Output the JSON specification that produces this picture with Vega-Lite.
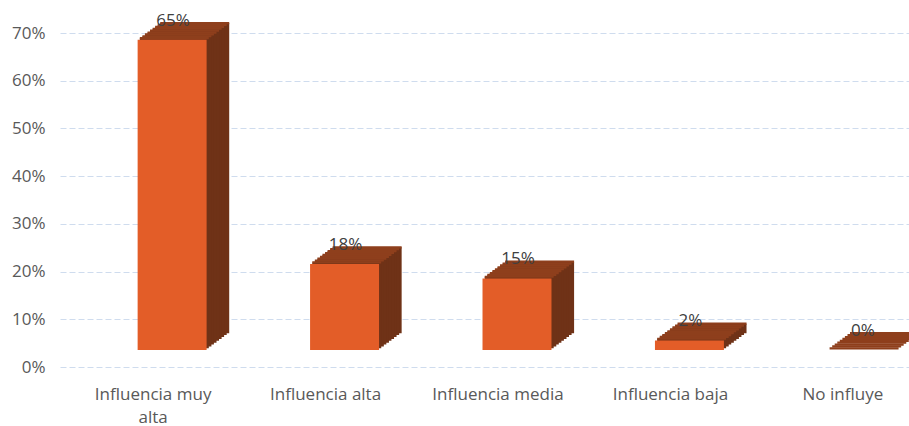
{
  "$schema": "https://vega.github.io/schema/vega-lite/v6.json",
  "width": 800,
  "height": 334,
  "autosize": {"type": "none"},
  "padding": {"left": 60, "top": 33, "right": 49, "bottom": 59},
  "background": "white",
  "config": {"view": {"stroke": null}, "font": "Open Sans"},
  "data": {"values": [
    {"categoria": "Influencia muy alta", "valor": 0.65, "etiqueta": "65%"},
    {"categoria": "Influencia alta", "valor": 0.18, "etiqueta": "18%"},
    {"categoria": "Influencia media", "valor": 0.15, "etiqueta": "15%"},
    {"categoria": "Influencia baja", "valor": 0.02, "etiqueta": "2%"},
    {"categoria": "No influye", "valor": 0.0, "etiqueta": "0%"}
  ]},
  "encoding": {
    "x": {"field": "categoria", "type": "nominal", "sort": null,
      "scale": {"range": [0, 876], "paddingInner": 0, "paddingOuter": 0.04},
      "axis": {"title": null, "domain": false, "ticks": false, "labelAngle": 0, "labelFontSize": 17, "labelColor": "#595959", "labelPadding": 19, "labelLineHeight": 23, "labelFont": "Open Sans", "labelLimit": 300,
        "labelExpr": "datum.value == 'Influencia muy alta' ? ['Influencia muy', 'alta'] : datum.label"}},
    "y": {"field": "valor", "type": "quantitative",
      "scale": {"domain": [0, 0.7]},
      "axis": {"title": null, "format": ".0%", "values": [0, 0.1, 0.2, 0.3, 0.4, 0.5, 0.6, 0.7], "domain": false, "ticks": false, "labelFontSize": 17, "labelColor": "#595959", "labelPadding": 15, "labelFont": "Open Sans", "gridColor": "#cfdcee", "gridDash": [6, 3], "gridWidth": 1}}
  },
  "layer": [
    {"mark": {"type": "bar", "width": {"band": 0.4}, "color": "#6f3217", "xOffset": 41.6, "yOffset": -33.8, "y2Offset": -33.8}},
    {"mark": {"type": "bar", "width": {"band": 0.4}, "color": "#6f3217", "xOffset": 39.1, "yOffset": -31.9, "y2Offset": -31.9}},
    {"mark": {"type": "bar", "width": {"band": 0.4}, "color": "#6f3217", "xOffset": 36.5, "yOffset": -30.0, "y2Offset": -30.0}},
    {"mark": {"type": "bar", "width": {"band": 0.4}, "color": "#6f3217", "xOffset": 34.0, "yOffset": -28.1, "y2Offset": -28.1}},
    {"mark": {"type": "bar", "width": {"band": 0.4}, "color": "#6f3217", "xOffset": 31.4, "yOffset": -26.2, "y2Offset": -26.2}},
    {"mark": {"type": "bar", "width": {"band": 0.4}, "color": "#6f3217", "xOffset": 28.9, "yOffset": -24.3, "y2Offset": -24.3}},
    {"mark": {"type": "bar", "width": {"band": 0.4}, "color": "#6f3217", "xOffset": 26.3, "yOffset": -22.4, "y2Offset": -22.4}},
    {"mark": {"type": "bar", "width": {"band": 0.4}, "color": "#6f3217", "xOffset": 23.8, "yOffset": -20.6, "y2Offset": -20.6}},
    {"mark": {"type": "bar", "width": {"band": 0.4}, "color": "#6f3217", "xOffset": 21.2, "yOffset": -18.7, "y2Offset": -18.7}},
    {"mark": {"type": "bar", "width": {"band": 0.4}, "fill": "#8e3f1c", "stroke": "#8e3f1c", "strokeWidth": 2.2, "xOffset": 41.6, "yOffset": -33.8, "y2Offset": -33.8}, "encoding": {"y2": {"field": "valor"}}},
    {"mark": {"type": "bar", "width": {"band": 0.4}, "fill": "#8e3f1c", "stroke": "#8e3f1c", "strokeWidth": 2.2, "xOffset": 39.1, "yOffset": -31.9, "y2Offset": -31.9}, "encoding": {"y2": {"field": "valor"}}},
    {"mark": {"type": "bar", "width": {"band": 0.4}, "fill": "#8e3f1c", "stroke": "#8e3f1c", "strokeWidth": 2.2, "xOffset": 36.5, "yOffset": -30.0, "y2Offset": -30.0}, "encoding": {"y2": {"field": "valor"}}},
    {"mark": {"type": "bar", "width": {"band": 0.4}, "fill": "#8e3f1c", "stroke": "#8e3f1c", "strokeWidth": 2.2, "xOffset": 34.0, "yOffset": -28.1, "y2Offset": -28.1}, "encoding": {"y2": {"field": "valor"}}},
    {"mark": {"type": "bar", "width": {"band": 0.4}, "fill": "#8e3f1c", "stroke": "#8e3f1c", "strokeWidth": 2.2, "xOffset": 31.4, "yOffset": -26.2, "y2Offset": -26.2}, "encoding": {"y2": {"field": "valor"}}},
    {"mark": {"type": "bar", "width": {"band": 0.4}, "fill": "#8e3f1c", "stroke": "#8e3f1c", "strokeWidth": 2.2, "xOffset": 28.9, "yOffset": -24.3, "y2Offset": -24.3}, "encoding": {"y2": {"field": "valor"}}},
    {"mark": {"type": "bar", "width": {"band": 0.4}, "fill": "#8e3f1c", "stroke": "#8e3f1c", "strokeWidth": 2.2, "xOffset": 26.3, "yOffset": -22.4, "y2Offset": -22.4}, "encoding": {"y2": {"field": "valor"}}},
    {"mark": {"type": "bar", "width": {"band": 0.4}, "fill": "#8e3f1c", "stroke": "#8e3f1c", "strokeWidth": 2.2, "xOffset": 23.8, "yOffset": -20.6, "y2Offset": -20.6}, "encoding": {"y2": {"field": "valor"}}},
    {"mark": {"type": "bar", "width": {"band": 0.4}, "fill": "#8e3f1c", "stroke": "#8e3f1c", "strokeWidth": 2.2, "xOffset": 21.2, "yOffset": -18.7, "y2Offset": -18.7}, "encoding": {"y2": {"field": "valor"}}},
    {"mark": {"type": "bar", "width": {"band": 0.4}, "color": "#e35d28", "xOffset": 19, "yOffset": -17, "y2Offset": -17}},
    {"mark": {"type": "text", "fontSize": 17, "color": "#404040", "font": "Open Sans", "baseline": "alphabetic", "dx": 20, "dy": -31},
      "encoding": {"text": {"field": "etiqueta"}}}
  ]
}
